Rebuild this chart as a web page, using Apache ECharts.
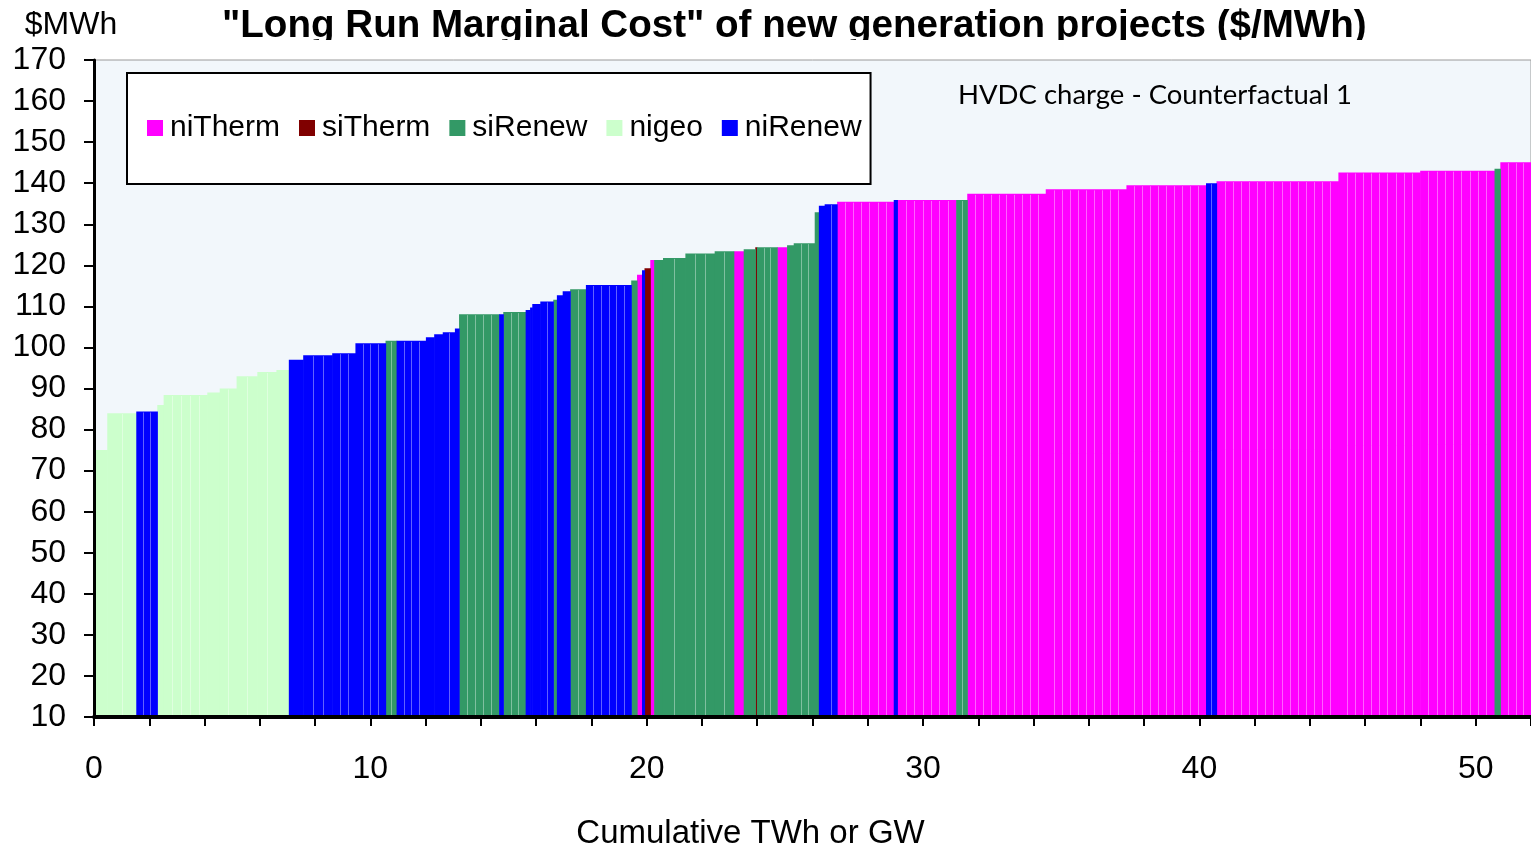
<!DOCTYPE html>
<html>
<head>
<meta charset="utf-8">
<script src="https://cdn.jsdelivr.net/npm/echarts@6/dist/echarts.min.js"></script>
<style>
html,body{margin:0;padding:0;background:#fff;}
#chart{width:1531px;height:849px;}
</style>
</head>
<body>
<div id="chart"></div>
<script>
// Category names (legend order) and colours
const categories = ['niTherm', 'siTherm', 'siRenew', 'nigeo', 'niRenew'];
const colors = ['#FF00FF', '#800000', '#339966', '#CCFFCC', '#0000FF'];

// Supply-curve steps:
// segment end (cumulative TWh or GW), cost ($/MWh), category, number of projects in the step
const segEnd = [0.48, 1.53, 2.29, 2.52, 4.10, 4.55, 5.16, 5.91, 6.60, 7.05,
  7.57, 8.62, 9.46, 10.55, 10.95, 12.01, 12.31, 12.62, 13.06, 13.21,
  14.66, 14.81, 15.62, 15.78, 15.86, 16.15, 16.62, 16.75, 16.96, 17.23,
  17.80, 19.44, 19.65, 19.83, 19.92, 20.13, 20.27, 20.59, 21.40, 22.46,
  23.15, 23.51, 23.93, 23.99, 24.72, 25.08, 25.32, 26.08, 26.23, 26.44,
  26.89, 28.94, 29.07, 31.20, 31.60, 34.44, 37.36, 40.24, 40.62, 45.03,
  47.99, 50.68, 50.89, 52.00];
const segCost = [75, 84, 84.4, 86, 88.4, 89, 90, 93, 94, 94.5,
  97, 98.1, 98.6, 101, 101.6, 101.6, 102.5, 103.2, 103.7, 104.6,
  108.1, 108.1, 108.6, 109.1, 109.7, 110.6, 111.2, 111.6, 112.7, 113.7,
  114.2, 115.2, 116.3, 117.7, 118.8, 119.3, 121.3, 121.3, 121.8, 122.9,
  123.4, 123.4, 123.9, 124.4, 124.4, 124.4, 124.9, 125.4, 132.9, 134.5,
  134.9, 135.5, 135.9, 135.9, 135.9, 137.4, 138.5, 139.5, 140.0, 140.5,
  142.6, 143.05, 143.5, 145.1];
const segType = ['nigeo', 'nigeo', 'niRenew', 'nigeo', 'nigeo', 'nigeo', 'nigeo', 'nigeo', 'nigeo', 'nigeo',
  'niRenew', 'niRenew', 'niRenew', 'niRenew', 'siRenew', 'niRenew', 'niRenew', 'niRenew', 'niRenew', 'niRenew',
  'siRenew', 'niRenew', 'siRenew', 'niRenew', 'niRenew', 'niRenew', 'niRenew', 'siRenew', 'niRenew', 'niRenew',
  'siRenew', 'niRenew', 'siRenew', 'niTherm', 'niRenew', 'siTherm', 'niTherm', 'siRenew', 'siRenew', 'siRenew',
  'siRenew', 'niTherm', 'siRenew', 'siTherm', 'siRenew', 'niTherm', 'siRenew', 'siRenew', 'siRenew', 'niRenew',
  'niRenew', 'niTherm', 'niRenew', 'niTherm', 'siRenew', 'niTherm', 'niTherm', 'niTherm', 'niRenew', 'niTherm',
  'niTherm', 'niTherm', 'siRenew', 'niTherm'];
const segCount = [1, 2, 3, 1, 5, 1, 2, 2, 2, 1,
  1, 3, 3, 4, 2, 4, 1, 1, 2, 1,
  5, 1, 3, 1, 1, 1, 2, 1, 1, 1,
  2, 6, 1, 1, 1, 1, 1, 1, 2, 3,
  2, 1, 1, 1, 3, 1, 1, 3, 1, 1,
  2, 7, 1, 7, 2, 10, 10, 10, 2, 15,
  10, 9, 1, 4];

// Axis ticks
const xMin = 0, xMax = 52, xTick = 2, xLabelEvery = 10;
const yMin = 10, yMax = 170, yTick = 10;

const seriesData = {};
categories.forEach(c => seriesData[c] = []);
let start = 0;
segEnd.forEach((e, i) => {
  seriesData[segType[i]].push([start, e, segCost[i], segCount[i]]);
  start = e;
});

function makeRender(color) {
  return function (params, api) {
    const x0 = api.value(0), x1 = api.value(1), v = api.value(2), n = api.value(3);
    const pTop = api.coord([x0, v]);
    const pBot = api.coord([x1, yMin]);
    const left = pTop[0], right = pBot[0], top = pTop[1], bottom = pBot[1];
    const children = [{
      type: 'rect',
      shape: { x: left, y: top, width: right - left + 0.6, height: bottom - top },
      style: { fill: color }
    }];
    for (let k = 1; k < n; k++) {
      const x = Math.round(left + (right - left) * k / n) + 0.5;
      children.push({
        type: 'line',
        shape: { x1: x, y1: top + 1, x2: x, y2: bottom },
        style: { stroke: 'rgba(255,255,255,0.38)', lineWidth: 1 }
      });
    }
    return { type: 'group', children: children };
  };
}

const FONT = '"Liberation Sans", Arial, sans-serif';

const chart = echarts.init(document.getElementById('chart'), null, { renderer: 'canvas' });
chart.setOption({
  animation: false,
  backgroundColor: '#ffffff',
  textStyle: { fontFamily: FONT },
  title: {
    text: '"Long Run Marginal Cost" of new generation projects ($/MWh)',
    left: 217, top: 2,
    textStyle: { fontFamily: FONT, fontSize: 38.6, fontWeight: 'bold', color: '#000' },
    z: 1
  },
  legend: {
    data: categories,
    left: 127, top: 73,
    orient: 'horizontal',
    icon: 'rect',
    itemWidth: 16, itemHeight: 16, itemGap: 19,
    padding: [40, 9, 41, 20],
    backgroundColor: '#ffffff',
    borderColor: '#000000', borderWidth: 2,
    textStyle: { fontFamily: FONT, fontSize: 30, color: '#000', padding: [0, 0, 0, 2] },
    z: 10
  },
  grid: {
    left: 94, right: 0, top: 60, bottom: 132,
    containLabel: false,
    outerBoundsMode: 'none',
    show: true, backgroundColor: '#F2F7FB', borderColor: '#9a9a9a', borderWidth: 1
  },
  xAxis: {
    type: 'value', min: xMin, max: xMax, interval: xTick, z: 20,
    name: 'Cumulative TWh or GW', nameLocation: 'middle', nameGap: 100,
    nameTextStyle: { fontFamily: FONT, fontSize: 33, color: '#000', padding: [0, 124, 0, 0] },
    axisLine: { show: true, onZero: false, lineStyle: { color: '#000', width: 4 } },
    axisTick: { show: true, inside: false, length: 9, lineStyle: { color: '#000', width: 2 } },
    axisLabel: {
      fontFamily: FONT, fontSize: 32, color: '#000', margin: 36,
      formatter: v => (v % xLabelEvery === 0 ? String(v) : '')
    },
    splitLine: { show: false }
  },
  yAxis: {
    type: 'value', min: yMin, max: yMax, interval: yTick, z: 20,
    name: '$MWh', nameLocation: 'end', nameGap: 19,
    nameTextStyle: { fontFamily: FONT, fontSize: 32, color: '#000', align: 'center', padding: [0, 46, 0, 0] },
    axisLine: { show: true, lineStyle: { color: '#000', width: 3 } },
    axisTick: { show: true, inside: false, length: 10, lineStyle: { color: '#000', width: 2 } },
    axisLabel: { fontFamily: FONT, fontSize: 32, color: '#000', margin: 28 },
    splitLine: { show: false }
  },
  graphic: [
    {
      type: 'rect', left: 200, top: 40, z: 50,
      shape: { width: 1200, height: 19 },
      style: { fill: '#ffffff' }
    },
    {
      type: 'text', left: 958, top: 81, z: 50,
      style: { text: 'HVDC charge - Counterfactual 1', fill: '#000', fontFamily: 'Lato, "Open Sans", sans-serif', fontSize: 27.5 }
    }
  ],
  series: categories.map((c, i) => ({
    name: c,
    type: 'custom',
    clip: true,
    itemStyle: { color: colors[i] },
    renderItem: makeRender(colors[i]),
    encode: { x: [0, 1], y: 2 },
    data: seriesData[c]
  }))
});
</script>
</body>
</html>
